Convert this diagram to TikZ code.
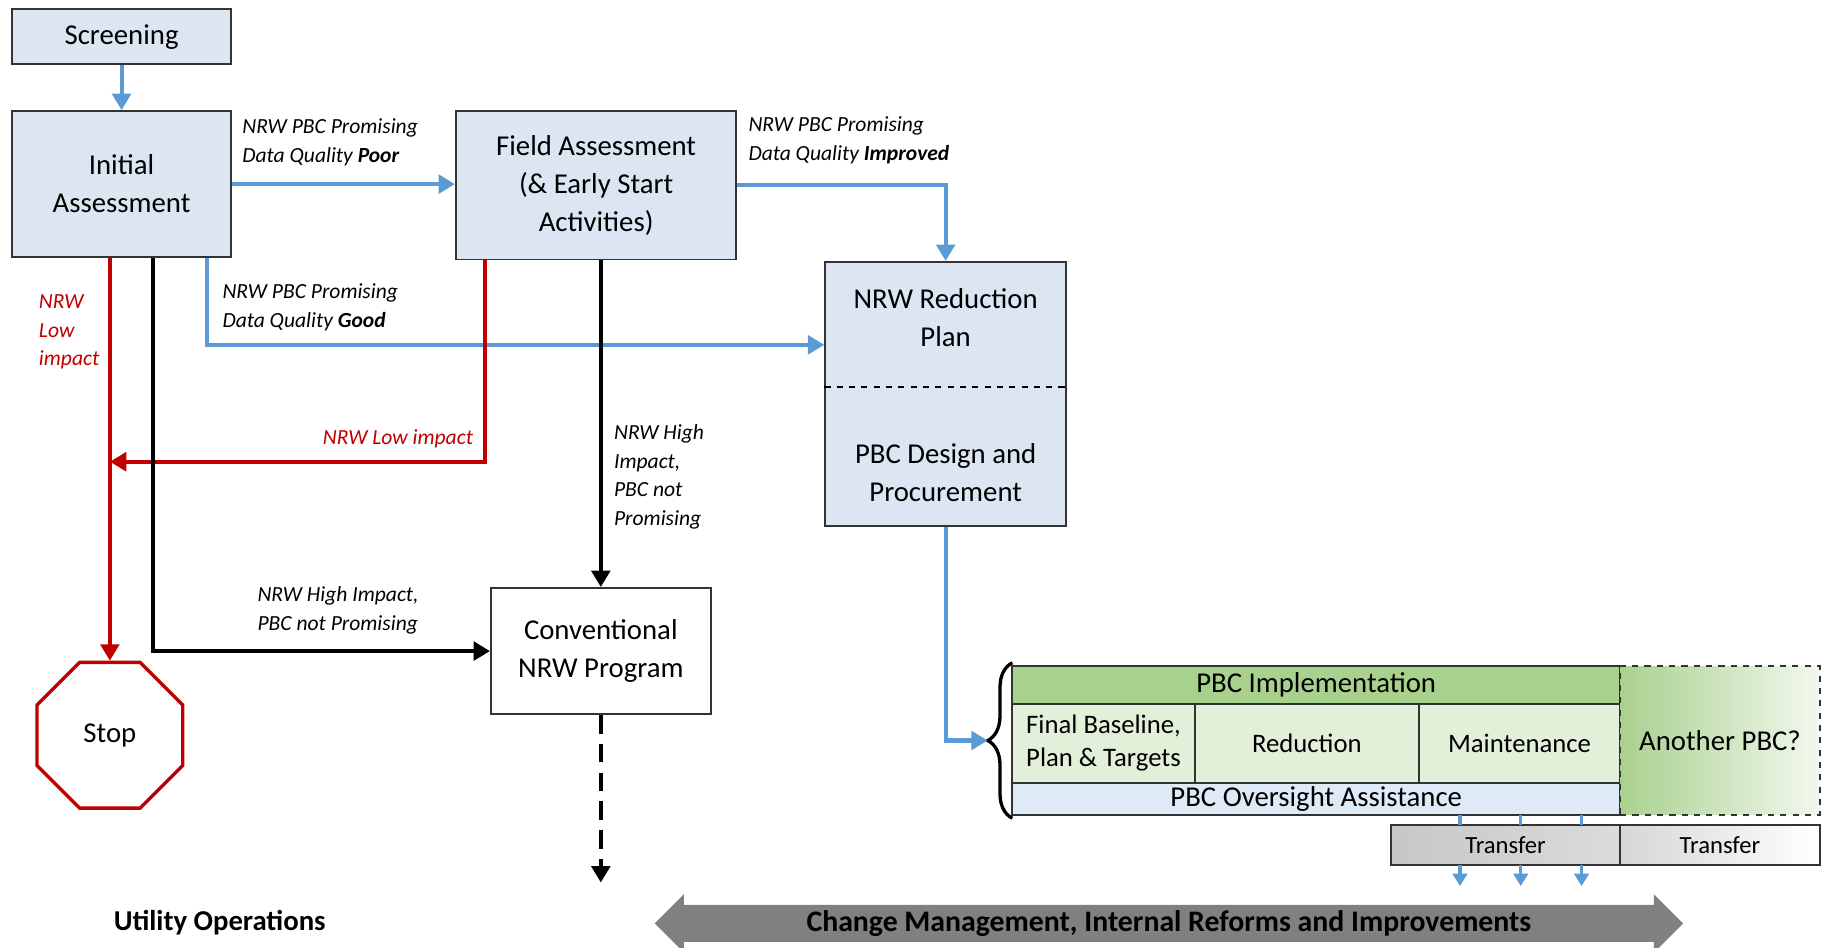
\documentclass[tikz,border=0pt]{standalone}
\usepackage{fontspec}
\setmainfont{Carlito}
\usetikzlibrary{arrows.meta,positioning,shapes.geometric,shapes.arrows,decorations.pathreplacing}
\definecolor{boxblue}{HTML}{DCE6F2}
\definecolor{flowblue}{HTML}{5B9BD5}
\definecolor{stopred}{HTML}{C00000}
\definecolor{implgreen}{HTML}{A9D18E}
\definecolor{cellgreen}{HTML}{E2F0D9}
\definecolor{oversight}{HTML}{DEEBF7}
\definecolor{edge}{HTML}{333333}
\definecolor{bandgray}{HTML}{808080}
\tikzset{font=\fontsize{14}{18.5}\selectfont}
\tikzset{
  box/.style={draw=edge, line width=0.9pt, fill=boxblue, align=center, inner sep=0pt},
  cell/.style={draw=edge, line width=0.9pt, fill=cellgreen, align=center, inner sep=0pt,
    outer sep=0pt, minimum height=1.36cm, font=\fontsize{13}{16}\selectfont},
  tbox/.style={draw=edge, line width=0.9pt, inner sep=0pt, outer sep=0pt,
    minimum height=0.68cm, font=\fontsize{12}{14}\selectfont},
  flow/.style={line width=2pt, -{Triangle[length=8pt,width=9pt]}},
  blueflow/.style={flow, draw=flowblue},
  redflow/.style={flow, draw=stopred},
  blackflow/.style={flow, draw=black},
  lbl/.style={font=\fontsize{10.5}{14}\selectfont\itshape, align=left, inner sep=0pt}
}
\begin{document}
\begin{tikzpicture}[x=0.02cm, y=-0.02cm]
  \fill[white] (0,0) rectangle (1563,811);
  \useasboundingbox (0,0) rectangle (1563,811);

  % boxes
  \node[box, minimum width=3.76cm, minimum height=0.94cm] (screen) at (104,31.5) {Screening};
  \node[box, minimum width=3.76cm, minimum height=2.5cm] (init) at (104,157.5) {Initial\\Assessment};
  \node[box, minimum width=4.8cm, minimum height=2.54cm] (field) at (510,158.5)
    {Field Assessment\\(\& Early Start\\Activities)};
  \node[box, minimum width=4.12cm, minimum height=4.52cm] (plan) at (809,337) {};
  \node[align=center] (plantxt) at (809,272) {NRW Reduction\\Plan};
  \node[align=center] (design) at (809,404) {PBC Design and\\Procurement};
  \coordinate (split) at (0,331);
  \draw[dashed, line width=1.2pt] (plan.west |- split) -- ([xshift=0.06cm]plan.east |- split);
  \node[box, fill=white, minimum width=3.76cm, minimum height=2.16cm] (conv) at (514,557)
    {Conventional\\NRW Program};
  \node[regular polygon, regular polygon sides=8, draw=stopred, line width=1.6pt,
    minimum size=2.7cm, inner sep=0pt, fill=white] (stop) at (94,629) {Stop};

  % blue flows
  \draw[blueflow] (screen) -- (init);
  \draw[blueflow] (init.east) -- (init.east -| field.west);
  \draw[blueflow] (field.east) -| (plan.north);
  \coordinate (good) at (177,295);
  \draw[blueflow] (init.south -| good) |- (plan.west |- good);
  \node[lbl, anchor=west] (poor) at (207,122) {NRW PBC Promising\\Data Quality \textbf{Poor}};
  \node[lbl, anchor=west] (improved) at (640,120) {NRW PBC Promising\\Data Quality \textbf{Improved}};
  \node[lbl, anchor=west] (goodlbl) at (190,263) {NRW PBC Promising\\Data Quality \textbf{Good}};

  % red flows
  \draw[redflow] (init.south -| stop.north) -- (stop.north);
  \coordinate (low) at (415,395);
  \draw[redflow] (field.south -| low) |- (stop.north |- low);
  \node[lbl, text=stopred, anchor=west] (lowa) at (33,284) {NRW\\Low\\impact};
  \node[lbl, text=stopred, anchor=east] (lowb) at (405,375) {NRW Low impact};

  % black flows
  \coordinate (high) at (131,556);
  \draw[blackflow] (init.south -| high) |- (conv.west);
  \draw[blackflow] (field.south -| conv.north) -- (conv.north);
  \coordinate (ops) at (514,755);
  \draw[blackflow, dashed, dash pattern=on 9pt off 5pt] (conv.south) -- (ops);
  \node[lbl, anchor=west] (higha) at (220,522) {NRW High Impact,\\PBC not Promising};
  \node[lbl, anchor=west] (highb) at (525,408) {NRW High\\Impact,\\PBC not\\Promising};

  % implementation table
  \node[draw=edge, line width=0.9pt, fill=implgreen, inner sep=0pt, outer sep=0pt,
    minimum width=10.4cm, minimum height=0.64cm] (impl) at (1126,586) {PBC Implementation};
  \node[cell, minimum width=3.12cm, anchor=north west] (base) at (impl.south west)
    {Final Baseline,\\Plan \& Targets};
  \node[cell, minimum width=3.84cm, right=0pt of base] (reduce) {Reduction};
  \node[cell, minimum width=3.44cm, right=0pt of reduce] (maint) {Maintenance};
  \node[draw=edge, line width=0.9pt, fill=oversight, inner sep=0pt, outer sep=0pt,
    minimum width=10.4cm, minimum height=0.54cm, anchor=north west] (oversee)
    at (base.south west) {PBC Oversight Assistance};
  \node[draw=edge, dashed, line width=0.9pt, left color=implgreen, right color=cellgreen!45!white,
    inner sep=0pt, outer sep=0pt, minimum width=3.42cm, minimum height=2.54cm,
    anchor=north west] (another) at (impl.north east) {Another PBC?};
  \node[tbox, minimum width=3.92cm, anchor=north east, left color=black!22, right color=black!14]
    (xfer) at ([yshift=-0.18cm]oversee.south east) {Transfer};
  \node[tbox, minimum width=3.42cm, right=0pt of xfer, left color=black!16, right color=white]
    (xfer2) {Transfer};
  \foreach \x in {1249,1301,1353}{
    \coordinate (drop) at (\x,758);
    \draw[flowblue, line width=1.6pt] (oversee.south -| drop) -- (xfer.north -| drop);
    \draw[flowblue, line width=1.6pt, -{Triangle[length=6pt,width=7pt]}] (xfer.south -| drop) -- (drop);
  }

  % brace
  \draw[line width=1.6pt, decorate, decoration={brace, amplitude=0.42cm}] (866,700) -- (866,567);
  \coordinate (tip) at (845,633.5);
  \draw[blueflow] (plan.south) |- (tip);

  % bottom
  \node[font=\fontsize{14}{16}\selectfont\bfseries, anchor=west, inner sep=0pt] (utility)
    at (97,789) {Utility Operations};
  \node[double arrow, fill=bandgray, inner xsep=0pt, inner ysep=0.08cm, minimum height=17.6cm,
    minimum width=1.0cm, double arrow head extend=0.18cm,
    font=\fontsize{14.5}{16}\selectfont\bfseries] (change) at (1000,790)
    {Change Management, Internal Reforms and Improvements};
\end{tikzpicture}
\end{document}
